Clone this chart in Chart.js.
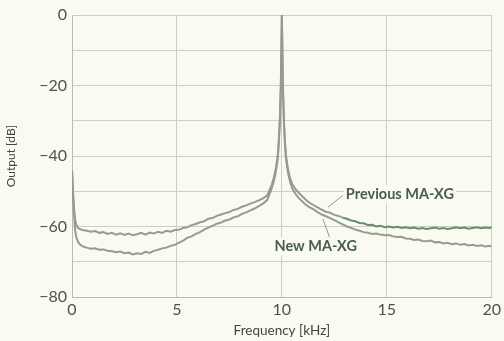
<!DOCTYPE html>
<html lang="en">
<head>
<meta charset="UTF-8">
<title>Output vs Frequency</title>
<style>
    body {
        margin: 0;
        padding: 0;
        background-color: #fafbf0;
    }
    .chart-box {
        width: 504px;
        height: 341px;
    }
</style>
</head>
<body>
<div class="chart-box">
    <canvas id="spectrumChart"></canvas>
</div>

<script src="https://cdn.jsdelivr.net/npm/chart.js"></script>
<script>
    // values
    const freqKHz = [
        0, 0.05, 0.1, 0.15, 0.2, 0.3, 0.4, 0.5,
        0.7, 0.9, 1.1, 1.3, 1.5, 1.7, 1.9, 2.1, 2.3, 2.5, 2.7, 2.9, 3.1, 3.3, 3.5,
        3.7, 3.9, 4.1, 4.3, 4.5, 4.7, 4.9, 5.1, 5.3, 5.5, 5.7, 5.9, 6.1, 6.3, 6.5,
        6.7, 6.9, 7.1, 7.3, 7.5, 7.7, 7.9, 8.1, 8.3, 8.5, 8.7, 8.9, 9.1, 9.3,
        9.5, 9.6, 9.7, 9.8, 9.85, 9.9, 9.95, 10, 10.05, 10.1, 10.15, 10.2, 10.3, 10.4, 10.5,
        10.7, 10.9, 11.1, 11.3, 11.5, 11.7, 11.9, 12.1, 12.3, 12.5, 12.7, 12.9, 13.1, 13.3, 13.5,
        13.7, 13.9, 14.1, 14.3, 14.5, 14.7, 14.9, 15.1, 15.3, 15.5, 15.7, 15.9, 16.1, 16.3, 16.5,
        16.7, 16.9, 17.1, 17.3, 17.5, 17.7, 17.9, 18.1, 18.3, 18.5, 18.7, 18.9, 19.1, 19.3, 19.5,
        19.7, 19.9, 20
    ];

    const previousDb = [
        -44, -50, -55, -58, -59.5, -60.5, -60.8, -61,
        -61.2, -61.5, -61.3, -61.8, -61.6, -62.1, -61.8, -62.3, -61.9, -62.4, -62.0, -62.5, -62.2, -61.8, -62.3,
        -61.7, -62.0, -61.5, -61.8, -61.2, -61.5, -61.0, -60.9, -60.4, -60.2, -59.6, -59.3, -58.8, -58.5, -57.8,
        -57.6, -57.0, -56.6, -56.2, -55.9, -55.3, -55.0, -54.4, -54.0, -53.5, -53.1, -52.6, -52.0, -51.2,
        -48.5, -46.5, -44, -40, -36, -30, -20, 0, -20, -30, -36, -40, -44, -46.5, -48,
        -49.8, -51, -52.2, -53.2, -53.9, -54.6, -55.2, -55.8, -56.1, -56.7, -57.0, -57.5, -57.8, -58.3, -58.5,
        -59.0, -59.1, -59.6, -59.5, -60.0, -59.8, -60.2, -60.0, -60.3, -60.1, -60.4, -60.2, -60.5, -60.3, -60.6,
        -60.4, -60.7, -60.5, -60.3, -60.6, -60.4, -60.7, -60.5, -60.2, -60.5, -60.3, -60.6, -60.4, -60.2, -60.5,
        -60.3, -60.4, -60.2
    ];

    const newDb = [
        -44, -52, -57, -61, -63, -64.5, -65.2, -65.6,
        -66.0, -66.3, -66.2, -66.6, -66.5, -66.9, -67.0, -67.3, -67.1, -67.6, -67.4, -67.9, -67.6, -67.8, -67.2,
        -67.5, -66.9, -66.6, -66.2, -66.0, -65.5, -65.2, -64.6, -64.0, -63.2, -62.8, -62.1, -61.6, -60.9, -60.3,
        -59.8, -59.2, -58.9, -58.3, -58.0, -57.4, -57.1, -56.4, -56.0, -55.4, -54.9, -54.2, -53.5, -52.5,
        -49.5, -47.5, -45, -41, -37, -31, -21, 0, -21, -31, -37, -41, -45, -47.5, -49.3,
        -51.2, -52.5, -53.6, -54.5, -55.1, -55.9, -56.6, -57.1, -57.6, -58.2, -58.8, -59.4, -60.0, -60.4, -60.9,
        -61.2, -61.6, -61.8, -62.1, -62.0, -62.3, -62.5, -62.4, -62.8, -63.0, -62.9, -63.4, -63.5, -63.8, -63.7,
        -64.1, -64.2, -64.0, -64.5, -64.4, -64.8, -64.6, -65.0, -64.8, -65.2, -65.0, -65.4, -65.2, -65.5, -65.3,
        -65.7, -65.5, -65.7
    ];

    const xTickStep = 5;
    const yLabelStep = 20;

    const toPoints = (ys) => freqKHz.map((f, i) => ({ x: f, y: ys[i] }));

    const gray = '#949c90';
    const green = '#6a8c72';

    // curve labels with leader lines, drawn on top
    const curveLabels = {
        id: 'curveLabels',
        afterDatasetsDraw(chart) {
            const { ctx, scales: { x, y } } = chart;
            const items = [
                { text: 'Previous MA-XG', tx: 13.05, ty: -50.8, from: [12.9, -51.2], to: [12.2, -54.5] },
                { text: 'New MA-XG', tx: 9.65, ty: -65.6, from: [12.3, -63.5], to: [11.95, -57.8] }
            ];
            ctx.save();
            ctx.font = 'bold 14.5px Lato';
            ctx.textBaseline = 'middle';
            items.forEach(it => {
                ctx.strokeStyle = '#8a9a88';
                ctx.lineWidth = 1;
                ctx.beginPath();
                ctx.moveTo(x.getPixelForValue(it.from[0]), y.getPixelForValue(it.from[1]));
                ctx.lineTo(x.getPixelForValue(it.to[0]), y.getPixelForValue(it.to[1]));
                ctx.stroke();
                const px = x.getPixelForValue(it.tx);
                const py = y.getPixelForValue(it.ty);
                const w = ctx.measureText(it.text).width;
                ctx.fillStyle = '#fafbf0';
                ctx.fillRect(px - 2, py - 9, w + 4, 18);
                ctx.fillStyle = '#475e4b';
                ctx.fillText(it.text, px, py);
            });
            ctx.restore();
        }
    };

    const ctx = document.getElementById('spectrumChart').getContext('2d');
    const spectrumChart = new Chart(ctx, {
        type: 'line',
        data: {
            datasets: [{
                label: 'Previous MA-XG',
                data: toPoints(previousDb),
                borderColor: gray,
                borderWidth: 2,
                pointRadius: 0,
                tension: 0,
                segment: {
                    borderColor: c => c.p0.parsed.x >= 12.8 ? green : gray
                }
            }, {
                label: 'New MA-XG',
                data: toPoints(newDb),
                borderColor: gray,
                borderWidth: 2,
                pointRadius: 0,
                tension: 0
            }]
        },
        options: {
            responsive: true,
            maintainAspectRatio: false,
            animation: false,
            layout: {
                padding: { top: 15, right: 12, left: 4, bottom: 0 }
            },
            plugins: {
                legend: { display: false },
                tooltip: { enabled: false }
            },
            scales: {
                x: {
                    type: 'linear',
                    min: 0,
                    max: 20,
                    ticks: {
                        stepSize: xTickStep,
                        color: '#505050',
                        font: { family: 'Lato', size: 16 },
                        padding: 3,
                        maxRotation: 0
                    },
                    grid: { color: '#cdcfc2', drawTicks: false },
                    border: { color: '#b9bbad' },
                    title: {
                        display: true,
                        text: 'Frequency [kHz]',
                        color: '#444',
                        font: { family: 'Lato', size: 13.5 },
                        padding: { top: 0, bottom: 2 }
                    },
                    afterFit: s => { s.height = 44; }
                },
                y: {
                    min: -80,
                    max: 0,
                    ticks: {
                        stepSize: 10,
                        color: '#505050',
                        font: { family: 'Lato', size: 16 },
                        padding: 5,
                        callback: v => v % yLabelStep === 0 ? (v < 0 ? '\u2212' + (-v) : '' + v) : ''
                    },
                    grid: { color: '#cdcfc2', drawTicks: false },
                    border: { color: '#b9bbad' },
                    title: {
                        display: true,
                        text: 'Output [dB]',
                        color: '#444',
                        font: { family: 'Lato', size: 12 },
                        padding: { top: 0, bottom: 0 }
                    },
                    afterFit: s => { s.width = 68; }
                }
            }
        },
        plugins: [curveLabels]
    });
</script>
</body>
</html>
